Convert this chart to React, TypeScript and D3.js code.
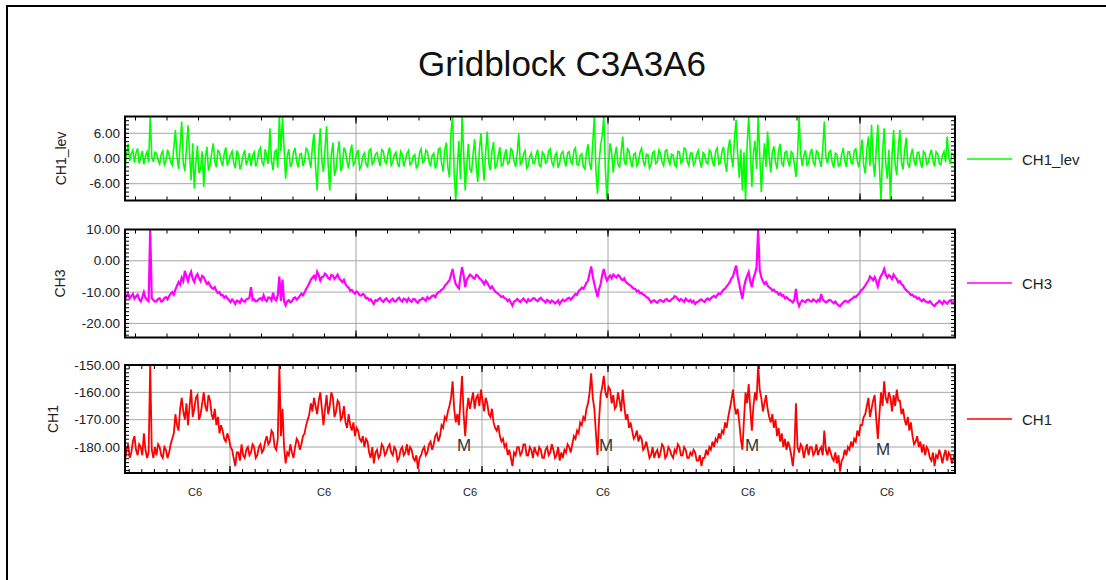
import React from 'react';
import * as d3 from 'd3';

// time axis: first sample time and step between samples
const T0 = 5 / 3;
const DT = 0.125;
const T1 = T0 + 830 / 12.6;

const ch1Lev: number[] = [
  -2.5, 1.1, 3.5, -0.6, 1.2, 2.0, -1.0, 1.4, 2.4, -1.2, 0.3, 1.8, -1.4, 0.6, 1.6, -0.9, 10, 0.4, -0.8, 1.5,
  1.2, -0.4, -1.3, 1.0, 1.8, -1.5, -0.6, 2.1, 0.9, -0.8, -1.6, 2.6, 6.8, 0.5, -2.5, 3.2, 8.8, -1.1, -3, 2.4,
  7.9, 1.2, -5.2, 3.6, -7.2, -0.9, 3.1, -3.5, -2.4, 1.7, -6.8, 0.2, 2.8, -2.9, -1.5, 1.3, 3.6, -0.7, -2.1, 1.9,
  1.5, -0.6, -1.8, 1.2, 2.6, -1.7, -0.5, 0.9, 1.7, -1.0, -2.3, 1.9, 1.0, -2.6, -1.4, 0.8, 2.0, -1.5, -0.4, 1.3,
  -1.8, 0.7, 1.5, -1.9, -0.7, 1.8, 2.6, -0.9, -1.6, 2.2, 0.6, -1.3, 7.2, -0.5, -2.8, 1.6, 2.0, -2.2, 10, 1.8,
  10, 2.5, -4.8, 0.6, 2.2, -2.0, -1.1, 1.5, 2.5, -0.8, -2.1, 1.0, 1.2, -1.8, -0.6, 2.4, 1.9, -0.4, -2.2, 3.0,
  6, -2.1, -7.6, 1.8, 7.2, -0.6, -3.2, 2.4, 7.7, -1.5, -7.6, 0.9, 3.8, -4.1, -2.5, 1.4, 4.1, -3.0, -1.8, 2.6,
  1.7, -0.8, -2.4, 1.5, 3.3, -1.6, -0.9, 1.1, 2.0, -2.5, -1.7, 0.6, 1.3, -1.2, -2.1, 1.9, 2.3, -1.4, -0.7, 1.0,
  1.4, -0.4, -1.8, 2.1, 1.7, -0.7, -1.2, 1.3, 2.6, -1.6, -0.9, 0.8, 1.5, -1.1, -2.0, 1.7, 1.0, -1.9, -0.5, 1.2,
  1.9, -1.5, -1.1, 0.5, 0.9, -2.2, -1.7, 1.4, 2.3, -1.0, -0.6, 2.0, 1.6, -0.8, -1.9, 0.7, 1.2, -2.4, -1.4, 2.2,
  2.5, -1.2, -3.1, 2.0, 3.8, -2.2, -4.5, 6.5, 10, -3.5, -10, -2.0, 4.2, -5.0, 10, 1.5, -7.6, -1.5, 3.5, -2.5,
  -3.4, 1.0, 4.6, -1.9, -5.6, 2.1, 6, -0.5, -5.2, 1.6, 6.4, -1.2, -2.8, 1.8, 3.9, -2.4, -1.6, 0.8, 2.7, -1.8,
  -1.6, 0.9, 2.2, -1.3, -1.0, 2.3, 1.8, -0.6, -2.0, 1.2, 6, -1.4, -0.8, 1.1, 1.9, -2.3, -1.7, 0.5, 1.3, -1.1,
  -1.2, 0.8, 2.1, -1.6, -2.0, 1.5, 1.0, -1.1, -0.7, 1.9, 2.3, -0.9, -1.8, 0.6, 1.4, -2.2, -1.0, 1.2, 1.7, -0.5,
  -1.9, 1.3, 1.6, -0.8, -1.3, 1.9, 2.5, -1.4, -1.6, 0.7, 1.1, -2.0, -2.5, 1.6, 3.4, -1.2, -2.7, 4.0, 10, -3.0,
  -8.4, -1.0, 3.2, 5.5, 10, -2.5, -9.6, -1.4, 3.6, 1.2, -3.4, 0.6, 2.8, -1.3, -2.2, 1.5, 5.2, -0.7, -1.6, 2.3,
  1.8, -0.6, -2.1, 0.9, 1.3, -1.7, -1.0, 1.5, 2.4, -0.5, -1.9, 1.0, 0.9, -2.3, -1.5, 1.4, 1.7, -1.2, -0.8, 2.0,
  1.2, -0.9, -1.7, 1.8, 2.1, -0.4, -1.4, 1.0, 0.8, -1.5, -2.0, 1.7, 1.6, -1.1, -0.5, 2.5, 2.2, -0.8, -1.7, 1.3,
  1.3, -1.6, -0.9, 1.1, 1.9, -0.6, -2.2, 1.4, 1.0, -0.9, -1.3, 2.0, 1.5, -0.7, -1.9, 1.8, 2.5, -1.3, -1.1, 1.6,
  2.8, -1.0, -3.2, 2.5, 4.5, 0.3, -2.1, 5.0, 9.2, 1.0, -4.6, 2.2, -7.6, 1.5, -10, 3.0, 10, 2.0, -6.8, 1.2,
  4.2, -2.5, 10, 1.0, -8, -1.2, 3.6, -2.0, 6.4, 0.5, -3.3, 1.5, 2.9, -0.8, -2.5, 1.9, 3.5, -1.1, -1.7, 1.4,
  1.7, -0.7, -1.9, 1.6, 1.1, -1.3, -4.4, 0.8, 10, 1.2, -1.8, 0.6, 2.0, -1.6, -1.1, 1.2, 2.3, -0.9, -1.7, 1.8,
  1.4, -0.5, -2.0, 2.2, 8.8, 0.4, -1.2, 1.5, 1.9, -1.0, -2.2, 1.3, 1.0, -1.8, -1.5, 0.9, 2.5, -0.6, -2.0, 1.6,
  1.6, -1.0, -1.3, 1.9, 2.3, -0.8, -2.1, 1.4, 4.5, -1.5, -3.6, 2.2, 5.2, -1.8, 8, -0.6, -4.4, 2.5, 8, -2.0,
  -10, 1.5, 7.2, -1.0, -4.8, 2.0, -10, 0.8, 6.8, -1.5, -3.9, 2.6, 6.8, -0.9, -2.6, 1.8, 5, -1.2, -2.2, 1.0,
  2.3, -0.6, -1.8, 1.4, 1.5, -0.9, -2.2, 1.7, 1.2, -1.4, -1.0, 0.9, 2.1, -0.5, -1.9, 1.6, 1.1, -1.2, -1.5, 0.8,
  1.7, -0.8, 5.2, 0.5, -1.4, 1.2, 0.9, -0.6,
];

const ch3: number[] = [
  -12.5, -11.0, -10.5, -12.0, -11.2, -10.6, -12.1, -11.4, -10.8, -12.3, -13, -11.6, -10, -11.8, -12.5, -12.9, 10, -12.0, -12.5, -13.0,
  -12.9, -12.2, -12, -13.0, -12.8, -11.9, -11.6, -12.3, -11.3, -10.5, -10, -10.8, -9.2, -8.0, -6.8, -7.6, -5.4, -6.5, -3.2, -5.0,
  -6.5, -4.6, -3.5, -5.8, -6.8, -5.0, -4.2, -5.6, -6.5, -4.8, -5.2, -6.4, -7.4, -6.9, -7.9, -8.6, -9, -8.4, -9.6, -10.3,
  -10, -11.0, -10.9, -11.8, -11.3, -12.0, -12.5, -13.2, -12.4, -12.9, -13.8, -12.7, -12.9, -13.4, -12.2, -12.8, -13.1, -12.3, -12.1, -11.8,
  -8.4, -12.6, -12.3, -13.0, -12.8, -12.2, -11.9, -12.5, -11, -12.4, -12.9, -11.7, -11.8, -12.6, -10.2, -12.1, -12.7, -11.0, -5, -12.8,
  -6, -13.0, -14.2, -12.9, -12.6, -13.3, -12.9, -12.0, -11.7, -12.4, -11.9, -11.2, -10.5, -11.0, -10.1, -9.0, -8.2, -7.2, -6, -5.4,
  -4.8, -5.8, -3.5, -4.6, -6.3, -5.2, -5, -4.1, -4.6, -5.5, -5.9, -4.5, -4.7, -5.8, -5.2, -4.4, -5.6, -6.2, -6.8, -6.1,
  -7.4, -8.2, -8.5, -9.6, -9.3, -10.0, -10.5, -9.8, -10.2, -11.0, -11.1, -10.6, -11, -12.0, -11.8, -12.6, -12.3, -13.1, -13.8, -12.6,
  -12.8, -12.2, -11.9, -12.7, -13.1, -12.4, -12, -12.8, -13.2, -12.5, -12.1, -13.0, -12.9, -12.2, -11.8, -12.6, -13, -12.1, -12.3, -13.1,
  -12, -12.7, -13.1, -12.2, -12.3, -13.0, -13.4, -12.6, -12.4, -11.9, -12.3, -12.8, -11.6, -12.2, -11.8, -11.2, -11, -11.6, -10.5, -10.0,
  -9.8, -9.2, -9, -8.0, -7.5, -6.8, -6.2, -4.5, -2.6, -5.5, -7.4, -8.2, -8.8, -5.0, -2, -4.6, -8.4, -6.0, -5.2, -4.4,
  -4.8, -5.4, -5.7, -4.5, -4.8, -5.6, -6, -6.6, -7.5, -6.4, -7, -8.0, -8.8, -8.2, -9, -9.8, -10.2, -10.6, -11, -11.6,
  -11.3, -12.0, -12.1, -12.9, -12.4, -13.4, -14.3, -13.0, -12.8, -12.2, -12.7, -13.2, -12.5, -12.1, -12.8, -13.3, -12.3, -12.9, -12.6, -12.0,
  -12, -12.6, -12.9, -12.2, -11.8, -12.5, -12.8, -13.3, -12.5, -12.9, -13.4, -12.7, -13, -13.6, -13.2, -12.6, -13.8, -13.0, -12.4, -12.9,
  -12.6, -12.0, -11.8, -12.4, -11.9, -11.2, -10.6, -10.9, -9.7, -9.2, -8.6, -8.9, -8.1, -7.0, -6.3, -4.0, -1.8, -5.0, -7.4, -9.5,
  -11.6, -9.0, -7.4, -4.5, -2.6, -4.8, -6.3, -5.4, -4.7, -5.6, -4.4, -4.9, -5.3, -4.6, -4.9, -5.8, -6.2, -5.6, -6.8, -7.2,
  -7.6, -7.9, -8.4, -8.9, -9, -9.8, -9.5, -10.4, -10.2, -10.8, -11, -11.6, -11.8, -12.5, -13.3, -12.8, -12.6, -13.1, -13.4, -12.7,
  -12.5, -12.9, -13.1, -12.4, -12.2, -12.8, -12.9, -12.3, -12, -11.3, -11.6, -12.2, -12.8, -12.2, -12.6, -13.1, -12.1, -12.6, -13, -12.5,
  -13.3, -12.8, -13.8, -13.2, -13, -12.6, -12.3, -12.9, -13.1, -12.4, -12, -12.5, -12, -11.5, -11.2, -11.7, -11, -10.4, -10.6, -9.9,
  -9.2, -8.9, -8.2, -7.5, -6.8, -5.6, -5, -3.2, -1.5, -5.0, -7.4, -10.0, -12.2, -8.5, -6.3, -4.8, -3.6, -6.5, -8.4, -5.5,
  -4.2, -2.0, 10, -3.0, -5.2, -6.5, -7.4, -6.8, -7.9, -8.5, -8.8, -9.5, -9.2, -9.9, -10, -10.8, -10.4, -11.2, -11, -12.0,
  -11.6, -12.2, -12.5, -12.8, -13.3, -12.4, -9, -13.0, -14.5, -13.3, -12.6, -13.0, -13.2, -12.5, -12.4, -12.9, -13, -12.3, -12.7, -13.2,
  -12.5, -12.9, -10.6, -12.4, -12.8, -13.3, -13, -12.5, -12.6, -13.1, -13.6, -13.0, -13.7, -14.2, -14.5, -13.8, -13.3, -12.8, -12.9, -13.2,
  -12.7, -12.3, -12, -11.4, -11.6, -11.0, -10.5, -9.6, -9.2, -8.6, -7.9, -7.0, -6.3, -5.0, -5.5, -6.2, -5.2, -6.6, -8.2, -6.0,
  -4.8, -4.0, -2.6, -4.4, -5.4, -4.6, -5, -5.8, -4.4, -5.2, -5.8, -6.9, -6.5, -7.4, -7.9, -8.8, -9.4, -9.8, -10.3, -10.9,
  -10.8, -11.5, -11.4, -12.1, -11.8, -12.5, -12.9, -12.3, -12.8, -13.2, -13.4, -12.9, -13.6, -14.1, -14.5, -13.7, -13.4, -12.8, -13.2, -13.8,
  -12.8, -13.2, -13.7, -13.0, -12.6, -13.3, -13.4, -12.9,
];

const ch1: number[] = [
  -185, -181, -179, -184, -182, -178, -176, -181, -183, -179, -180, -183, -175, -181, -184, -182, -150, -181, -184, -180,
  -183, -179, -180, -183, -184, -180, -181, -184, -182, -179, -177, -175, -168, -172, -174, -166, -162, -167, -170, -164,
  -172, -165, -159, -169, -166, -162, -161, -170, -168, -164, -160, -165, -167, -161, -163, -168, -170, -166, -172, -169,
  -175, -172, -174, -177, -178, -175, -177, -180, -181, -184, -187, -182, -182, -185, -179, -183, -184, -181, -180, -183,
  -182, -179, -180, -184, -183, -180, -179, -182, -181, -178, -176, -179, -178, -174, -175, -180, -181, -177, -150, -176,
  -166, -180, -186, -182, -183, -179, -182, -184, -180, -177, -178, -181, -179, -176, -175, -172, -170, -168, -164, -167,
  -162, -165, -168, -163, -160, -166, -172, -166, -161, -168, -165, -160, -162, -169, -167, -163, -164, -170, -169, -165,
  -171, -173, -168, -172, -174, -171, -176, -173, -174, -177, -178, -176, -180, -177, -178, -182, -184, -180, -186, -182,
  -181, -184, -183, -179, -180, -183, -182, -180, -179, -182, -183, -180, -181, -185, -184, -181, -180, -183, -182, -179,
  -183, -180, -181, -184, -185, -183, -188, -184, -183, -181, -180, -183, -182, -179, -178, -181, -179, -176, -175, -178,
  -176, -172, -173, -169, -170, -167, -165, -162, -156, -166, -171, -168, -172, -163, -154, -168, -176, -167, -162, -166,
  -163, -160, -166, -162, -161, -165, -159, -163, -167, -162, -164, -168, -169, -166, -171, -173, -174, -172, -176, -178,
  -177, -180, -179, -183, -181, -184, -187, -182, -183, -180, -180, -183, -182, -179, -179, -183, -183, -180, -181, -184,
  -180, -182, -183, -180, -181, -184, -184, -181, -180, -183, -182, -179, -181, -184, -183, -180, -185, -182, -184, -181,
  -182, -179, -180, -182, -179, -176, -177, -174, -175, -171, -172, -169, -170, -166, -164, -160, -153, -162, -166, -175,
  -183, -170, -161, -158, -154, -160, -162, -158, -159, -164, -161, -166, -165, -160, -163, -167, -159, -165, -170, -168,
  -173, -171, -174, -177, -176, -174, -178, -176, -177, -181, -180, -178, -181, -184, -183, -180, -184, -182, -181, -184,
  -182, -179, -180, -184, -183, -180, -181, -183, -184, -181, -182, -179, -180, -183, -183, -180, -181, -184, -184, -182,
  -183, -181, -182, -185, -185, -183, -187, -184, -184, -181, -183, -180, -181, -178, -180, -177, -178, -175, -177, -174,
  -175, -171, -173, -169, -166, -163, -159, -165, -168, -166, -171, -177, -181, -170, -160, -164, -157, -166, -174, -165,
  -160, -163, -150, -159, -162, -167, -164, -161, -166, -169, -171, -168, -173, -170, -176, -173, -178, -175, -180, -177,
  -181, -178, -180, -183, -187, -181, -164, -180, -182, -179, -180, -184, -181, -179, -183, -180, -180, -183, -182, -179,
  -183, -181, -180, -183, -174, -181, -183, -180, -182, -184, -185, -182, -186, -183, -189, -185, -184, -181, -183, -180,
  -181, -178, -180, -177, -178, -174, -176, -172, -172, -169, -168, -165, -162, -169, -166, -163, -161, -170, -177, -168,
  -160, -165, -156, -162, -164, -160, -162, -167, -161, -165, -159, -163, -163, -168, -166, -170, -172, -169, -174, -171,
  -176, -179, -178, -176, -180, -178, -182, -179, -183, -180, -181, -184, -185, -182, -187, -183, -184, -181, -183, -186,
  -183, -181, -185, -182, -183, -186, -184, -182,
];

const seriesNames = ['CH1_lev', 'CH3', 'CH1'];
const seriesColors = ['#00ff00', '#ff00ff', '#ff0000'];
const seriesWidths = [1.6, 2.2, 1.8];
const ch1LevTicks = [6, 0, -6];
const ch3Ticks = [10, 0, -10, -20];
const ch1Ticks = [-150, -160, -170, -180];
const xMajorCoarse = [20, 40, 60];
const xMajorFine = [10, 20, 30, 40, 50, 60];
const c6Positions = [7.22, 17.46, 29.05, 39.6, 51.11, 62.14];
const mPositions = [28.57, 39.84, 51.43, 61.83];
const mLevels = [-179.6, -179.6, -179.6, -181.0];

const FONT = '"Liberation Sans", Arial, Helvetica, sans-serif';

type PanelDef = {
  id: string;
  name: string;
  data: number[];
  color: string;
  width: number;
  domain: [number, number];
  top: number;
  bottom: number;
  yTicks: number[];
  yMinor: number;
  xMajor: number[];
  xMinor: number;
  labelX: number;
  legendY: number;
};

const X0 = 125;
const X1 = 955;

function Panel({ p, x }: { p: PanelDef; x: d3.ScaleLinear<number, number> }) {
  const y = d3.scaleLinear().domain(p.domain).range([p.bottom, p.top]);
  const line = d3
    .line<number>()
    .x((_, i) => x(T0 + i * DT))
    .y((v) => y(v));
  const yMinorVals = d3.range(Math.ceil(p.domain[0] / p.yMinor) * p.yMinor, p.domain[1] + 1e-6, p.yMinor);
  const xMinorVals = d3.range(Math.ceil(T0 / p.xMinor) * p.xMinor, T1, p.xMinor);
  const midY = (p.top + p.bottom) / 2;
  return (
    <g>
      <defs>
        <clipPath id={`clip-${p.id}`}>
          <rect x={X0} y={p.top} width={X1 - X0} height={p.bottom - p.top} />
        </clipPath>
      </defs>
      {p.yTicks.map((t) => (
        <line key={`hg${t}`} x1={X0} x2={X1} y1={y(t)} y2={y(t)} stroke="#a6a6a6" strokeWidth={1} />
      ))}
      {p.xMajor.map((t) => (
        <line key={`vg${t}`} x1={x(t)} x2={x(t)} y1={p.top} y2={p.bottom} stroke="#a6a6a6" strokeWidth={1} />
      ))}
      <path
        d={line(p.data) || ''}
        fill="none"
        stroke={p.color}
        strokeWidth={p.width}
        strokeLinejoin="miter"
        clipPath={`url(#clip-${p.id})`}
      />
      {yMinorVals.map((v, i) => (
        <g key={`ym${i}`}>
          <line x1={X0} x2={X0 + 4} y1={y(v)} y2={y(v)} stroke="#000" strokeWidth={1} />
          <line x1={X1 - 4} x2={X1} y1={y(v)} y2={y(v)} stroke="#000" strokeWidth={1} />
        </g>
      ))}
      {xMinorVals.map((v, i) => (
        <g key={`xm${i}`}>
          <line x1={x(v)} x2={x(v)} y1={p.top} y2={p.top + 4} stroke="#000" strokeWidth={1} />
          <line x1={x(v)} x2={x(v)} y1={p.bottom - 4} y2={p.bottom} stroke="#000" strokeWidth={1} />
        </g>
      ))}
      {p.xMajor.map((t) => (
        <g key={`xM${t}`}>
          <line x1={x(t)} x2={x(t)} y1={p.top} y2={p.top + 7} stroke="#000" strokeWidth={1.2} />
          <line x1={x(t)} x2={x(t)} y1={p.bottom - 7} y2={p.bottom} stroke="#000" strokeWidth={1.2} />
        </g>
      ))}
      <rect x={X0} y={p.top} width={X1 - X0} height={p.bottom - p.top} fill="none" stroke="#000" strokeWidth={2} />
      {p.yTicks.map((t) => (
        <text
          key={`yl${t}`}
          x={120}
          y={y(t)}
          textAnchor="end"
          dominantBaseline="central"
          fontFamily={FONT}
          fontSize={13.5}
          fill="#222"
        >
          {t.toFixed(2)}
        </text>
      ))}
      <text
        transform={`translate(${p.labelX},${midY}) rotate(-90)`}
        textAnchor="middle"
        dominantBaseline="central"
        fontFamily={FONT}
        fontSize={14}
        fill="#222"
      >
        {p.name}
      </text>
      <line x1={967} x2={1012} y1={p.legendY} y2={p.legendY} stroke={p.color} strokeWidth={1.6} />
      <text x={1022} y={p.legendY} dominantBaseline="central" fontFamily={FONT} fontSize={15} fill="#222">
        {p.name}
      </text>
    </g>
  );
}

export default function App() {
  const x = d3.scaleLinear().domain([T0, T1]).range([X0, X1]);
  const panels: PanelDef[] = [
    {
      id: 'p1', name: seriesNames[0], data: ch1Lev, color: seriesColors[0], width: seriesWidths[0], domain: [-10, 10],
      top: 116.5, bottom: 200.5, yTicks: ch1LevTicks, yMinor: 1, xMajor: xMajorCoarse, xMinor: 2.5,
      labelX: 61, legendY: 159,
    },
    {
      id: 'p2', name: seriesNames[1], data: ch3, color: seriesColors[1], width: seriesWidths[1], domain: [-24.5, 10],
      top: 229.5, bottom: 337.5, yTicks: ch3Ticks, yMinor: 1.25, xMajor: xMajorCoarse, xMinor: 2.5,
      labelX: 60, legendY: 283,
    },
    {
      id: 'p3', name: seriesNames[2], data: ch1, color: seriesColors[2], width: seriesWidths[2], domain: [-189.5, -150],
      top: 365, bottom: 473, yTicks: ch1Ticks, yMinor: 10 / 7, xMajor: xMajorFine, xMinor: 1,
      labelX: 52.5, legendY: 419,
    },
  ];
  const p3 = panels[2];
  const y3 = d3.scaleLinear().domain(p3.domain).range([p3.bottom, p3.top]);
  return (
    <svg
      width={1106}
      height={580}
      style={{ position: 'absolute', left: 0, top: 0, background: '#fff' }}
    >
      <rect x={7} y={6} width={1130} height={600} fill="#fff" stroke="#000" strokeWidth={2} />
      <text
        x={562}
        y={63}
        textAnchor="middle"
        dominantBaseline="central"
        fontFamily={FONT}
        fontSize={35}
        fill="#111"
      >
        Gridblock C3A3A6
      </text>
      {panels.map((p) => (
        <Panel key={p.id} p={p} x={x} />
      ))}
      {mPositions.map((t, i) => (
        <text
          key={`m${i}`}
          x={x(t)}
          y={y3(mLevels[i])}
          textAnchor="middle"
          dominantBaseline="central"
          fontFamily={FONT}
          fontSize={17}
          fill="#333"
        >
          M
        </text>
      ))}
      {c6Positions.map((t, i) => (
        <text
          key={`c6${i}`}
          x={x(t)}
          y={492}
          textAnchor="middle"
          dominantBaseline="central"
          fontFamily={FONT}
          fontSize={11}
          fill="#222"
        >
          C6
        </text>
      ))}
    </svg>
  );
}
